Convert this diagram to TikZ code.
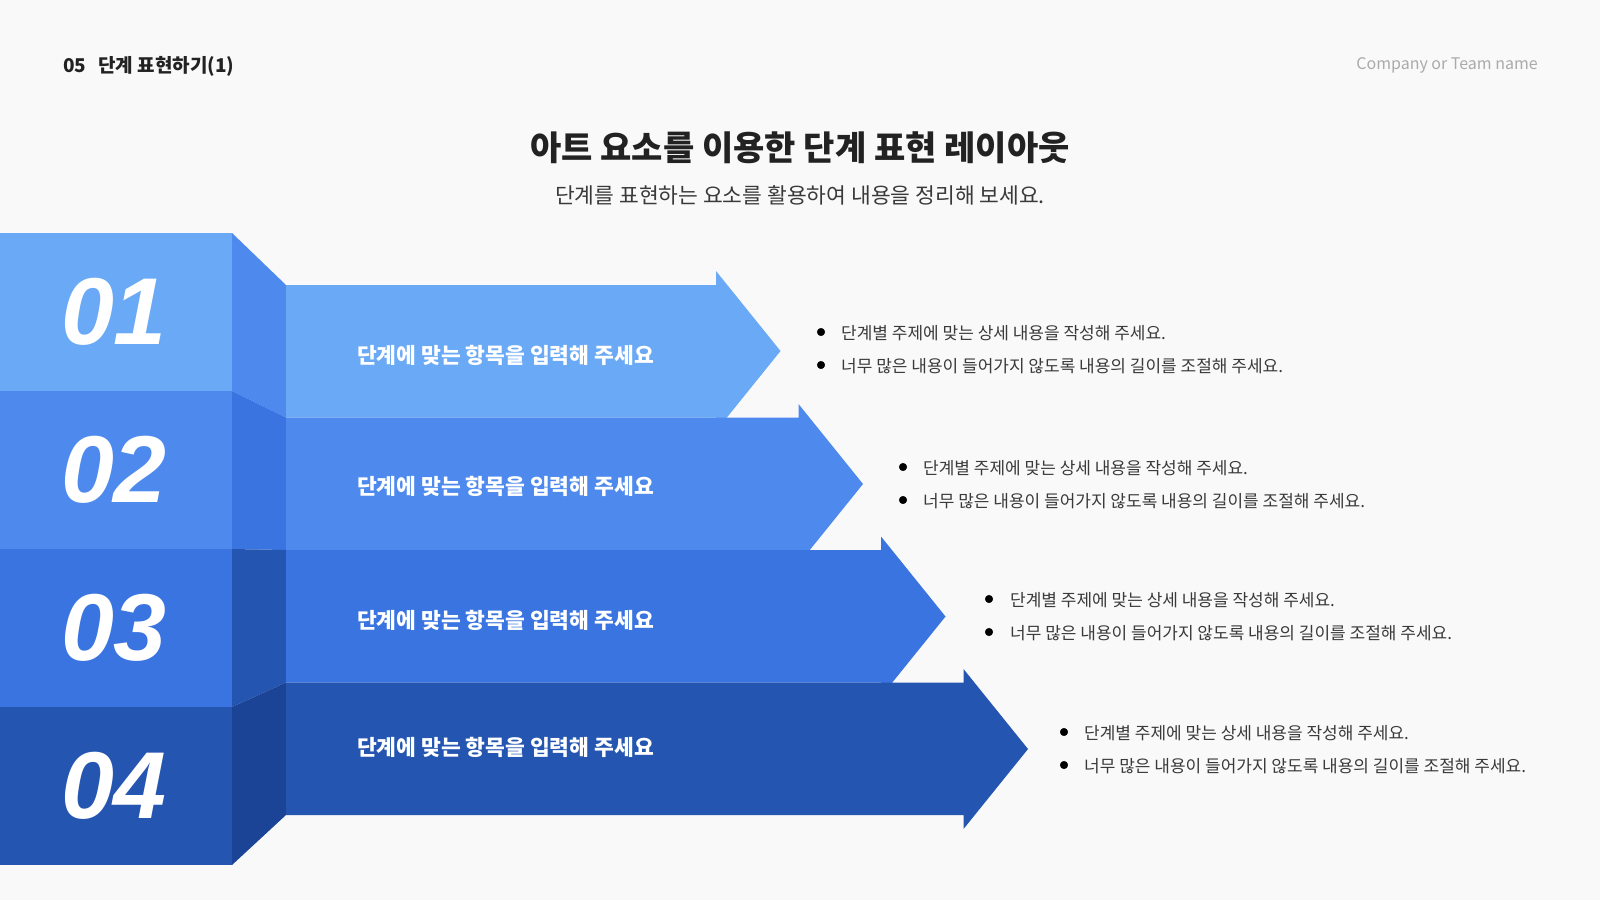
\documentclass[tikz,border=0pt]{standalone}
\usepackage{fontspec}
\setmainfont{Noto Sans CJK KR}
\newfontfamily\numfont{Liberation Sans}
\definecolor{bgcol}{HTML}{F9F9F9}
\definecolor{stepa}{HTML}{6AA9F5}
\definecolor{stepb}{HTML}{4E8AEE}
\definecolor{stepc}{HTML}{3A74E0}
\definecolor{stepd}{HTML}{2456B1}
\definecolor{stepe}{HTML}{1B4496}
\definecolor{titlecol}{HTML}{222222}
\definecolor{desccol}{HTML}{3A3A3A}
\definecolor{compcol}{HTML}{AAAAAA}

\begin{document}
\begin{tikzpicture}[%
      x=1pt, y=-1pt,
      numtext/.style={inner sep=0pt, text=white, font=\numfont\bfseries\itshape\fontsize{95}{95}\selectfont},
      labtext/.style={anchor=west, inner sep=0pt, text=white, font=\bfseries\fontsize{21.5}{25}\selectfont},
      desctext/.style={anchor=west, inner sep=0pt, text=desccol, font=\fontsize{17}{20}\selectfont},
      ]
      \fill [bgcol] (0,0) rectangle (1600,900);

      % front of the block
      \fill [stepa] (0,233) rectangle (232,391);
      \fill [stepb] (0,391) rectangle (232,549);
      \fill [stepc] (0,549) rectangle (232,707);
      \fill [stepd] (0,707) rectangle (232,865);

      % side of the block
      \fill [stepb] (232,233) -- (286,285) -- (286,417.5) -- (232,391) -- cycle;
      \fill [stepc] (232,391) -- (286,417.5) -- (286,550) -- (232,549) -- cycle;
      \fill [stepd] (232,549) -- (286,550) -- (286,682.5) -- (232,707) -- cycle;
      \fill [stepe] (232,707) -- (286,682.5) -- (286,815) -- (232,865) -- cycle;

      % arrows
      \fill [stepa] (286,285) -- (716,285) -- (716,271) -- (780.5,351) -- (716,431) -- (716,417.5) -- (286,417.5) -- cycle;
      \fill [stepb] (286,417.5) -- (798.5,417.5) -- (798.5,404) -- (863,484) -- (798.5,564) -- (798.5,550) -- (286,550) -- cycle;
      \fill [stepc] (286,550) -- (881,550) -- (881,536.5) -- (945.5,616.5) -- (881,696.5) -- (881,682.5) -- (286,682.5) -- cycle;
      \fill [stepd] (286,682.5) -- (963.5,682.5) -- (963.5,669) -- (1028,749) -- (963.5,829) -- (963.5,815) -- (286,815) -- cycle;

      \node [numtext] (num1) at (114,312) {01};
      \node [numtext] (num2) at (114,470) {02};
      \node [numtext] (num3) at (114,628) {03};
      \node [numtext] (num4) at (114,786) {04};

      \node [labtext] (lab1) at (357,355) {단계에 맞는 항목을 입력해 주세요};
      \node [labtext] (lab2) at (357,486) {단계에 맞는 항목을 입력해 주세요};
      \node [labtext] (lab3) at (357,620.5) {단계에 맞는 항목을 입력해 주세요};
      \node [labtext] (lab4) at (357,747) {단계에 맞는 항목을 입력해 주세요};

      \filldraw [color=black] (821,332) circle (3.8pt);
      \filldraw [color=black] (821,365) circle (3.8pt);
      \filldraw [color=black] (903,467) circle (3.8pt);
      \filldraw [color=black] (903,500) circle (3.8pt);
      \filldraw [color=black] (989,599) circle (3.8pt);
      \filldraw [color=black] (989,632) circle (3.8pt);
      \filldraw [color=black] (1064,732) circle (3.8pt);
      \filldraw [color=black] (1064,765) circle (3.8pt);

      \node [desctext] (d1a) at (841,333) {단계별 주제에 맞는 상세 내용을 작성해 주세요.};
      \node [desctext] (d1b) at (841,366) {너무 많은 내용이 들어가지 않도록 내용의 길이를 조절해 주세요.};
      \node [desctext] (d2a) at (923,468) {단계별 주제에 맞는 상세 내용을 작성해 주세요.};
      \node [desctext] (d2b) at (923,501) {너무 많은 내용이 들어가지 않도록 내용의 길이를 조절해 주세요.};
      \node [desctext] (d3a) at (1010,600) {단계별 주제에 맞는 상세 내용을 작성해 주세요.};
      \node [desctext] (d3b) at (1010,633) {너무 많은 내용이 들어가지 않도록 내용의 길이를 조절해 주세요.};
      \node [desctext] (d4a) at (1084,733) {단계별 주제에 맞는 상세 내용을 작성해 주세요.};
      \node [desctext] (d4b) at (1084,766) {너무 많은 내용이 들어가지 않도록 내용의 길이를 조절해 주세요.};

      \node [anchor=west, inner sep=0pt, text=titlecol, font=\bfseries\fontsize{19}{22}\selectfont] (head) at (63,66) {05\hspace{12pt}단계 표현하기(1)};
      \node [anchor=east, inner sep=0pt, text=compcol, font=\fontsize{16}{20}\selectfont] (team) at (1538,65) {Company or Team name};
      \node [inner sep=0pt, text=titlecol, font=\bfseries\fontsize{34}{40}\selectfont] (title) at (800,148) {아트 요소를 이용한 단계 표현 레이아웃};
      \node [inner sep=0pt, text=desccol, font=\fontsize{21.5}{25}\selectfont] (sub) at (800,195) {단계를 표현하는 요소를 활용하여 내용을 정리해 보세요.};
      \end{tikzpicture}
\end{document}
